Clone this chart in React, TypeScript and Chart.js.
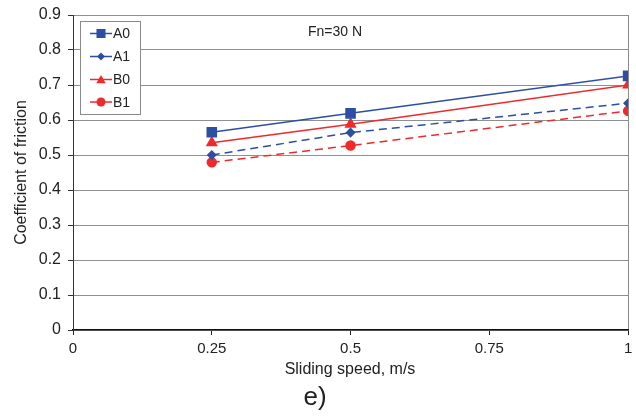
import React, { useEffect, useRef } from "react";
import { Chart, registerables } from "chart.js";

Chart.register(...registerables);

const speeds = [0.25, 0.5, 1.0];
const seriesNames = ["A0", "A1", "B0", "B1"];
const a0 = [0.565, 0.619, 0.726];
const a1 = [0.5, 0.564, 0.648];
const b0 = [0.535, 0.588, 0.7];
const b1 = [0.479, 0.527, 0.626];
const yTicks = [0, 0.1, 0.2, 0.3, 0.4, 0.5, 0.6, 0.7, 0.8, 0.9];
const xTicks = [0, 0.25, 0.5, 0.75, 1];

const BLUE = "#2c4fa3";
const RED = "#ee2a2a";
const FONT = "'Liberation Sans', Arial, sans-serif";

const overlay = {
  id: "overlay",
  afterDraw(chart: any) {
    const ctx = chart.ctx;
    const area = chart.chartArea;
    ctx.save();
    // legend box
    const lx = 80, ly = 21, lw = 60, lh = 93;
    ctx.fillStyle = "#fff";
    ctx.fillRect(lx, ly, lw, lh);
    ctx.strokeStyle = "#8a8a8a";
    ctx.lineWidth = 1;
    ctx.strokeRect(lx + 0.5, ly + 0.5, lw, lh);
    const rows = [33.5, 56.5, 79.5, 102];
    chart.data.datasets.forEach((ds: any, i: number) => {
      const y = rows[i];
      ctx.strokeStyle = ds.borderColor;
      ctx.lineWidth = 1.5;
      ctx.setLineDash([]);
      ctx.beginPath();
      ctx.moveTo(90, y);
      ctx.lineTo(112, y);
      ctx.stroke();
      ctx.fillStyle = ds.borderColor;
      const r = ds.pointRadius;
      ctx.beginPath();
      if (ds.pointStyle === "rect") {
        const s = Math.SQRT1_2 * r;
        ctx.rect(101 - s, y - s, 2 * s, 2 * s);
      } else if (ds.pointStyle === "rectRot") {
        ctx.moveTo(101 - r, y);
        ctx.lineTo(101, y - r);
        ctx.lineTo(101 + r, y);
        ctx.lineTo(101, y + r);
        ctx.closePath();
      } else if (ds.pointStyle === "triangle") {
        ctx.moveTo(101 - r * 0.866, y + r * 0.5 + 1);
        ctx.lineTo(101, y - r + 1);
        ctx.lineTo(101 + r * 0.866, y + r * 0.5 + 1);
        ctx.closePath();
      } else {
        ctx.arc(101, y, r, 0, Math.PI * 2);
      }
      ctx.fill();
      ctx.fillStyle = "#222";
      ctx.font = `14px ${FONT}`;
      ctx.textAlign = "left";
      ctx.textBaseline = "middle";
      ctx.fillText(ds.label, 113, y + 1);
    });
    // annotation
    ctx.fillStyle = "#222";
    ctx.font = `14px ${FONT}`;
    ctx.textAlign = "center";
    ctx.textBaseline = "middle";
    ctx.fillText("Fn=30 N", 335, 32);
    // axis titles
    ctx.font = `16px ${FONT}`;
    ctx.fillText("Sliding speed, m/s", 350, 370);
    ctx.save();
    ctx.translate(22, (area.top + area.bottom) / 2);
    ctx.rotate(-Math.PI / 2);
    ctx.fillText("Coefficient of friction", 0, 0);
    ctx.restore();
    // panel label
    ctx.font = `26px ${FONT}`;
    ctx.fillText("e)", 315, 398);
    ctx.restore();
  },
};

export default function App() {
  const ref = useRef<HTMLCanvasElement>(null);
  useEffect(() => {
    document.body.style.margin = "0";
    const mk = (vals: number[]) => speeds.map((x, i) => ({ x, y: vals[i] }));
    const chart = new Chart(ref.current!, {
      type: "line",
      data: {
        datasets: [
          { label: seriesNames[0], data: mk(a0), borderColor: BLUE, backgroundColor: BLUE, pointStyle: "rect", pointRadius: 6.4, borderWidth: 1.5 },
          { label: seriesNames[1], data: mk(a1), borderColor: BLUE, backgroundColor: BLUE, pointStyle: "rectRot", pointRadius: 4, borderWidth: 1.5, borderDash: [8, 5] },
          { label: seriesNames[2], data: mk(b0), borderColor: RED, backgroundColor: RED, pointStyle: "triangle", pointRadius: 5.5, borderWidth: 1.5 },
          { label: seriesNames[3], data: mk(b1), borderColor: RED, backgroundColor: RED, pointStyle: "circle", pointRadius: 4.5, borderWidth: 1.5, borderDash: [8, 5] },
        ] as any,
      },
      options: {
        animation: false,
        responsive: false,
        devicePixelRatio: 1,
        layout: { padding: { top: 15, right: 7, left: 0, bottom: 0 } },
        plugins: { legend: { display: false }, tooltip: { enabled: false } },
        elements: { point: { borderWidth: 0, hoverRadius: 0 }, line: { tension: 0 } },
        scales: {
          x: {
            type: "linear",
            min: 0,
            max: 1,
            afterBuildTicks: (s: any) => { s.ticks = xTicks.map((v) => ({ value: v })); },
            afterFit: (s: any) => { s.height = 86; s.paddingLeft = 0; s.paddingRight = 0; },
            ticks: { color: "#222", font: { family: FONT, size: 15 }, padding: 5, callback: (v: any) => String(v) },
            grid: {
              color: (c: any) => (c.tick && c.tick.value === 1 ? "#8a8a8a" : "rgba(0,0,0,0)"),
              tickColor: "#222",
              tickLength: 5,
              lineWidth: 1,
            },
            border: { color: "#111", width: 1.5 },
          },
          y: {
            type: "linear",
            min: 0,
            max: 0.9,
            afterBuildTicks: (s: any) => { s.ticks = yTicks.map((v) => ({ value: v })); },
            afterFit: (s: any) => { s.width = 73; s.paddingTop = 0; s.paddingBottom = 0; },
            ticks: { color: "#222", font: { family: FONT, size: 16 }, padding: 7, callback: (v: any) => String(Math.round(v * 10) / 10) },
            grid: { color: "#8f8f8f", tickColor: "#333", tickLength: 5, lineWidth: 1 },
            border: { color: "#333", width: 1 },
          },
        },
      },
      plugins: [overlay],
    });
    return () => chart.destroy();
  }, []);
  return (
    <div style={{ position: "relative", width: 636, height: 416, background: "#fff" }}>
      <canvas ref={ref} width={636} height={416} style={{ display: "block", width: 636, height: 416 }} />
    </div>
  );
}
